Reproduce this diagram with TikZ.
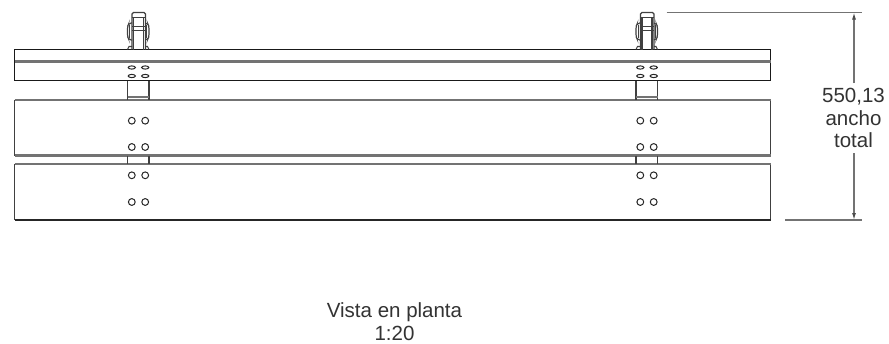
\documentclass[tikz,border=0pt]{standalone}
\usepackage{fontspec}
\setmainfont{Liberation Sans}
\usetikzlibrary{arrows.meta}
\tikzset{
  heavy/.style={draw=black!90,line width=1.6pt},
  thick gray/.style={draw=black!55,line width=2.8pt},
  thin part/.style={draw=black!75,line width=1.2pt},
  clamp/.style={draw=black!75,line width=1.1pt},
  hole/.style={draw=black!85,line width=1pt},
  dimline/.style={draw=black!55,line width=1.2pt},
  dimarrow/.style={draw=black!55,line width=1.2pt,-{Latex[length=7pt,width=4pt,color=black!70]}},
  label text/.style={font=\fontsize{20.5}{23}\selectfont,text=black!80,inner sep=0pt,anchor=base},
  fixing/.pic={
    % clamp, origin at left connector line, beam top
    \draw[clamp,rounded corners=1.5pt] (4.5,0) -- (4.5,-37) -- (18,-37) -- (18,0);
    \draw[clamp] (6,0) -- (6,-32) (16,0) -- (16,-32);
    \draw[clamp] (4.5,-32) -- (18,-32);
    \draw[clamp] (4.5,-23) -- (18,-23) (4.5,-19) -- (18,-19);
    \draw[clamp,rounded corners=2pt] (4.5,-26.5) -- (1.5,-26.5) -- (0,-23) -- (0,-13) -- (1.5,-9.5) -- (4.5,-9.5);
    \draw[clamp,rounded corners=2pt] (18,-26.5) -- (20,-26.5) -- (21.5,-23) -- (21.5,-13) -- (20,-9.5) -- (18,-9.5);
    \draw[clamp] (2.2,-24.5) -- (2.2,-12) (19.4,-24.5) -- (19.4,-12);
    \draw[clamp] (0,0) -- (1.5,-3) -- (4.5,-3) (21.5,0) -- (20,-3) -- (18,-3);
    % bolts
    \foreach \hx in {4.3,17.7} {
      \foreach \hy in {18,26.5} \draw[hole] (\hx,\hy) ellipse (3.6 and 1.6);
      \foreach \hy in {71.2,97.5,125.8,152.5} \draw[hole] (\hx,\hy) circle (3.4);
    }
    % connectors between beams
    \draw[thin part] (0,31) -- (0,50) (21.5,31) -- (21.5,50);
    \draw[draw=black!55,line width=2pt] (0,47.5) -- (21.5,47.5);
    \draw[thin part] (0,106) -- (0,114.5) (21.5,106) -- (21.5,114.5);
  }
}
\begin{document}
\begin{tikzpicture}[x=1pt,y=-1pt]
\useasboundingbox (0,0) rectangle (889,343);
\fill[white] (0,0) rectangle (889,343);
% beam 1
\draw[heavy] (14.5,80.5) -- (14.5,49.5) -- (770.5,49.5) -- (770.5,80.5) -- cycle;
\draw[thick gray] (14.5,61.5) -- (770.5,61.5);
% beam 2
\draw[thin part] (14.5,100) -- (14.5,155.5) (770.5,100) -- (770.5,155.5);
\draw[thick gray] (14.5,100) -- (770.5,100);
\draw[thick gray] (14.5,155.5) -- (770.5,155.5);
% beam 3
\draw[thin part] (14.5,164) -- (14.5,219.5) (770.5,164) -- (770.5,219.5);
\draw[thick gray] (14.5,164) -- (770.5,164);
\draw[draw=black!85,line width=2pt] (14.5,219.5) -- (770.5,219.5);
% fixings
\pic at (127.5,49.5) {fixing};
\pic at (636,49.5) {fixing};
% dimension
\coordinate (dtop) at (854,12.5);
\coordinate (dbot) at (854,220);
\coordinate (dupper) at (854,83);
\coordinate (dlower) at (854,153);
\draw[dimline] (666.5,12.5) -- (862,12.5);
\draw[dimline] (785,220) -- (862,220);
\draw[dimarrow] (dupper) -- (dtop);
\draw[dimarrow] (dlower) -- (dbot);
\node[label text] (dima) at (853.5,102) {550,13};
\node[label text] (dimb) at (853.5,125.5) {ancho};
\node[label text] (dimc) at (853.5,147.7) {total};
\node[label text] (titlea) at (394.5,317) {Vista en planta};
\node[label text] (titleb) at (394.5,340) {1:20};
\end{tikzpicture}
\end{document}
